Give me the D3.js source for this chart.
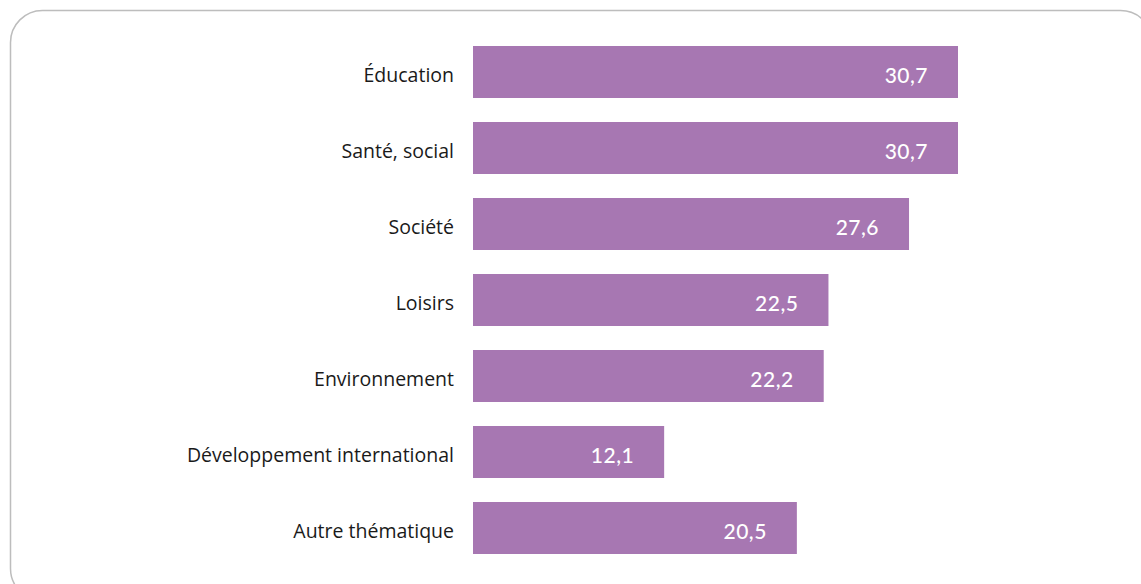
<!DOCTYPE html>
<html><head><meta charset="utf-8">
<script src="https://cdn.jsdelivr.net/npm/d3@7"></script>
<style>body{margin:0;background:#fff;}svg{display:block;}</style>
</head><body>
<svg id="chart" width="1141" height="584"></svg>
<script>
const categories = ["Éducation","Santé, social","Société","Loisirs","Environnement","Développement international","Autre thématique"];
const values = [30.7, 30.7, 27.6, 22.5, 22.2, 12.1, 20.5];
const labels = ["30,7","30,7","27,6","22,5","22,2","12,1","20,5"];

const svg = d3.select("#chart");
svg.append("rect").attr("x",10.5).attr("y",10.5).attr("width",1142).attr("height",590)
  .attr("rx",32).attr("fill","none").attr("stroke","#bdbdbd").attr("stroke-width",1.5);

const x0 = 473;
const x = d3.scaleLinear().domain([0, 30.7]).range([x0, 958]);
const y = d3.scaleBand().domain(categories).range([34, 566]).paddingInner(24/76).paddingOuter(12/76);

const g = svg.append("g");
g.selectAll("rect.bar").data(values).join("rect").attr("class","bar")
  .attr("x", x0).attr("y",(d,i)=>y(categories[i])).attr("height", y.bandwidth())
  .attr("width", d=>x(d)-x0).attr("fill","#a777b2");

g.selectAll("text.cat").data(categories).join("text").attr("class","cat")
  .attr("x", 454).attr("y", d=>y(d)+y.bandwidth()/2+10)
  .attr("text-anchor","end").attr("font-family","'Open Sans', sans-serif").attr("font-size",19.5)
  .attr("fill","#1a1a1a").text(d=>d);

g.selectAll("text.val").data(values).join("text").attr("class","val")
  .attr("x", d=>x(d)-30).attr("y",(d,i)=>y(categories[i])+y.bandwidth()/2+11)
  .attr("text-anchor","end").attr("font-family","Lato, sans-serif").attr("font-size",21)
  .attr("letter-spacing",0.5).attr("font-weight",500).attr("fill","#fff").text((d,i)=>labels[i]);
</script>
</body></html>
